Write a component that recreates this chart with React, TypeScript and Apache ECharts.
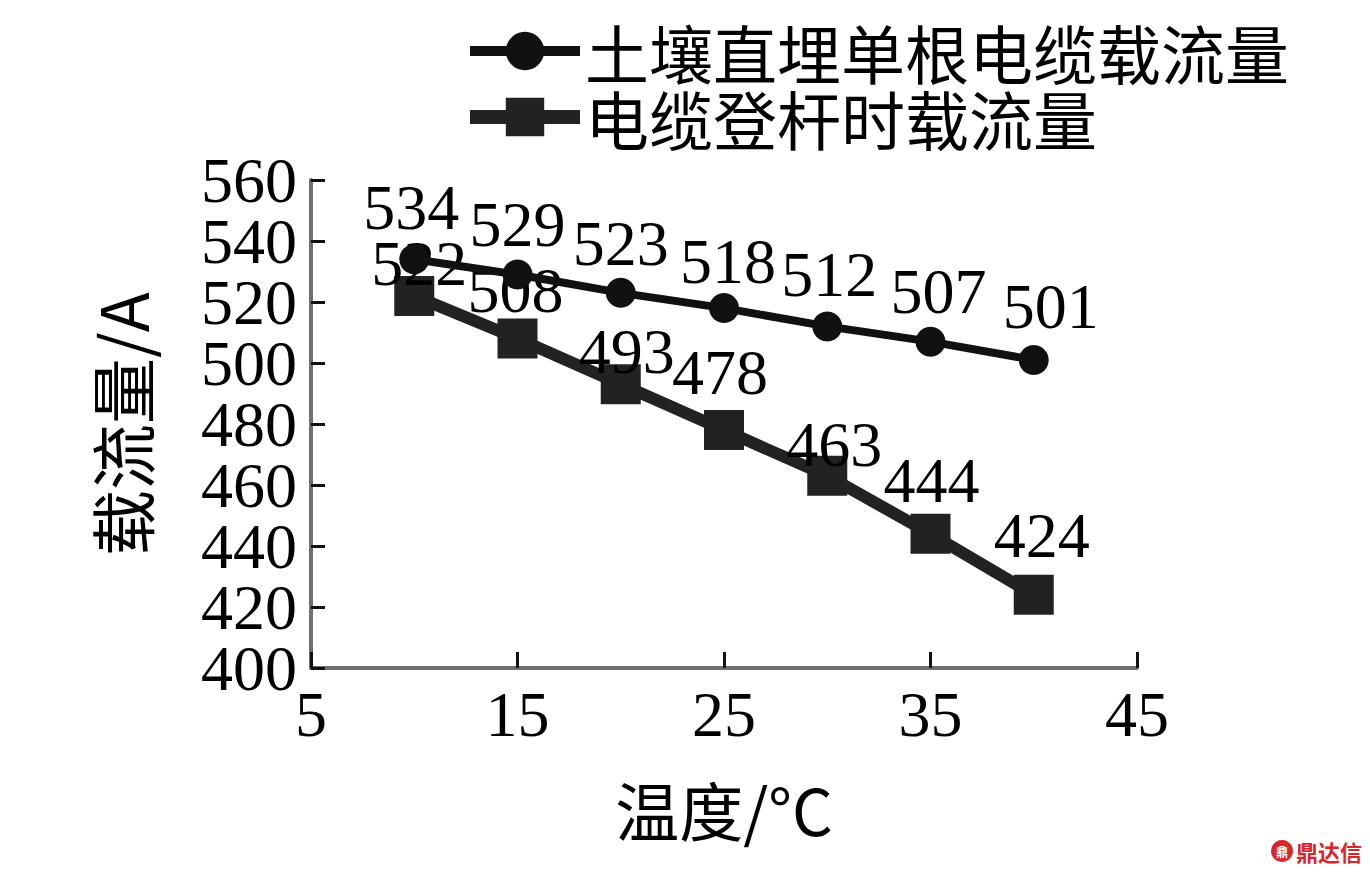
import React, { useEffect, useRef } from "react";
import * as echarts from "echarts";

const temperatures = [10, 15, 20, 25, 30, 35, 40];
const buriedCurrent = [534, 529, 523, 518, 512, 507, 501];
const poleCurrent = [522, 508, 493, 478, 463, 444, 424];
const seriesNames = ["土壤直埋单根电缆载流量", "电缆登杆时载流量"];
const xAxisTitle = "温度/°C";
const yAxisTitle = "载流量/A";
const yMin = 400;
const yMax = 560;
const yStep = 20;

const buriedLabelOffsets = [
  [-3, -52], [0, -50], [0, -49], [4, -47], [2, -52], [8, -50], [17, -53],
];
const poleLabelOffsets = [
  [5, -32], [-2, -48], [6, -33], [-4, -58], [7, -31], [1, -53], [8, -59],
];

const SERIF = "'Liberation Serif', 'Times New Roman', serif";
const CJK = "'Noto Sans CJK SC', sans-serif";

export default function App() {
  const ref = useRef<HTMLDivElement>(null);
  useEffect(() => {
    document.body.style.margin = "0";
    if (!ref.current) return;
    const chart = echarts.init(ref.current, undefined, { renderer: "svg" });
    const mk = (vals: number[], offs: number[][]) =>
      vals.map((v, i) => ({
        value: [temperatures[i], v],
        label: { offset: offs[i] },
      }));
    const yLabelStyle = { fontFamily: SERIF, fontSize: 64, color: "#000", margin: 14 };
    chart.setOption({
      animation: false,
      backgroundColor: "#ffffff",
      grid: { left: 311, right: 233, top: 180, bottom: 206 },
      legend: {
        orient: "vertical",
        left: 458,
        top: 13,
        itemWidth: 110,
        itemHeight: 48,
        itemGap: 0,
        textStyle: { fontFamily: CJK, fontSize: 64, color: "#000", lineHeight: 66 },
        data: [
          { name: seriesNames[0], lineStyle: { width: 10, color: "#111" }, itemStyle: { color: "#111" } },
          { name: seriesNames[1], lineStyle: { width: 14, color: "#222" }, itemStyle: { color: "#222" } },
        ],
      },
      xAxis: {
        type: "value",
        min: 5,
        max: 45,
        interval: 10,
        name: xAxisTitle,
        nameLocation: "middle",
        nameGap: 108,
        nameTextStyle: { fontFamily: CJK, fontSize: 64, color: "#000" },
        axisLine: { show: true, lineStyle: { color: "#707070", width: 4 } },
        axisTick: { show: true, inside: true, length: 16, lineStyle: { color: "#111", width: 3 } },
        axisLabel: {
          fontFamily: SERIF, fontSize: 64, color: "#000", margin: 14,
          showMinLabel: true, showMaxLabel: true,
        },
        splitLine: { show: false },
      },
      yAxis: [
        {
          type: "value",
          position: "left",
          min: yMin,
          max: yMax,
          interval: yStep,
          name: yAxisTitle,
          nameLocation: "middle",
          nameRotate: 90,
          nameGap: 158,
          nameTextStyle: { fontFamily: CJK, fontSize: 66, color: "#000" },
          axisLine: { show: true, lineStyle: { color: "#707070", width: 4 } },
          axisTick: { show: true, inside: true, length: 14, lineStyle: { color: "#111", width: 3 } },
          axisLabel: {
            ...yLabelStyle,
            showMinLabel: true,
            showMaxLabel: true,
            formatter: (v: number) => (v === yMin || v === yMax ? String(v) : ""),
          },
          splitLine: { show: false },
        },
        {
          type: "value",
          position: "left",
          offset: 0,
          min: yMin,
          max: yMax,
          interval: yStep,
          axisLine: { show: false },
          axisTick: { show: false },
          axisLabel: { ...yLabelStyle, showMinLabel: false, showMaxLabel: false },
          splitLine: { show: false },
        },
      ],
      series: [
        {
          name: seriesNames[0],
          type: "line",
          yAxisIndex: 0,
          data: mk(buriedCurrent, buriedLabelOffsets),
          symbol: "circle",
          symbolSize: 30,
          lineStyle: { color: "#111", width: 8 },
          itemStyle: { color: "#111" },
          label: { show: true, position: "inside", fontFamily: SERIF, fontSize: 64, color: "#000" },
          z: 3,
        },
        {
          name: seriesNames[1],
          type: "line",
          yAxisIndex: 0,
          data: mk(poleCurrent, poleLabelOffsets),
          symbol: "rect",
          symbolSize: 40,
          lineStyle: { color: "#222", width: 12 },
          itemStyle: { color: "#222" },
          label: { show: true, position: "inside", fontFamily: SERIF, fontSize: 64, color: "#000" },
          z: 2,
        },
      ],
      graphic: [
        { type: "circle", shape: { cx: 1282, cy: 851, r: 11 }, style: { fill: "#d9262c" } },
        {
          type: "text",
          x: 1282,
          y: 851,
          style: { text: "鼎", fill: "#ffffff", font: "bold 12px 'Noto Sans CJK SC'", align: "center", verticalAlign: "middle" },
        },
        {
          type: "text",
          x: 1296,
          y: 851,
          style: { text: "鼎达信", fill: "#d9262c", font: "bold 22px 'Noto Sans CJK SC'", verticalAlign: "middle" },
        },
      ],
    });
    return () => chart.dispose();
  }, []);
  return <div ref={ref} style={{ width: 1370, height: 874 }} />;
}
